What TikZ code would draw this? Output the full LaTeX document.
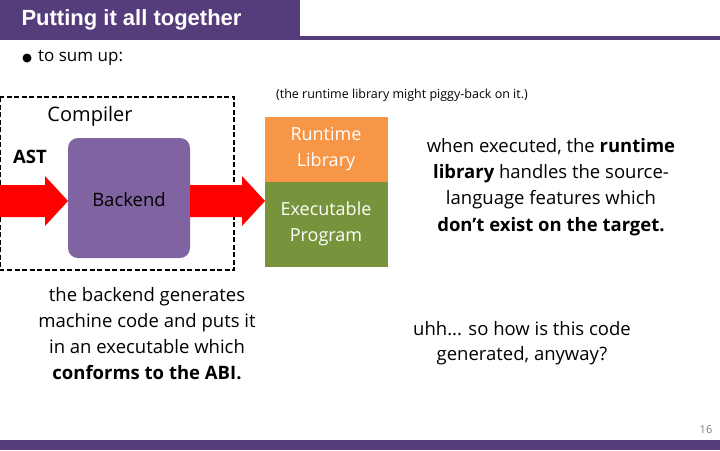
\documentclass[tikz,border=0pt]{standalone}
\usepackage{fontspec}
\setmainfont{Open Sans}
\newfontfamily\titlefont{Liberation Sans}
\definecolor{tpurple}{HTML}{553C7B}
\definecolor{bpurple}{HTML}{8064A2}
\definecolor{torange}{HTML}{F79646}
\definecolor{tgreen}{HTML}{77933C}
\definecolor{tred}{HTML}{FF0000}
\tikzset{
  txt/.style={font=\fontsize{18.5}{25}\selectfont,align=center,inner sep=0},
  boxtxt/.style={font=\fontsize{18}{26}\selectfont,align=center,text=white,inner sep=0},
  bigarrow/.style={fill=tred,draw=none}
}
\begin{document}
\begin{tikzpicture}[x=1pt,y=-1pt]
\useasboundingbox (0,0) rectangle (720,450);
\fill[white] (0,0) rectangle (720,450);
\fill[tpurple] (0,0) rectangle (300,38);
\fill[tpurple] (0,36) rectangle (720,40);
\node[anchor=west,text=white,font=\titlefont\bfseries\fontsize{22}{26}\selectfont] (title) at (18,20) {Putting it all together};
\fill[tpurple] (720,440) rectangle (0,450);
\fill (27,58) circle (4.5);
\node[txt,anchor=west,font=\fontsize{17}{22}\selectfont] (sum) at (38,58) {to sum up:};
\draw[dash pattern=on 5pt off 2.5pt,line width=1.8pt] (0,97) rectangle (234,270);
\node[txt,font=\fontsize{20}{24}\selectfont] (comp) at (90,116) {Compiler};
\node[txt,font=\bfseries\fontsize{18.5}{22}\selectfont] (ast) at (30,157) {AST};
\fill[bigarrow] (0,185) -- (45,185) -- (45,176) -- (68,201) -- (45,226) -- (45,217) -- (0,217) -- cycle;
\fill[bpurple,rounded corners=10pt] (68,138) rectangle (190,258);
\node[txt] (be) at (129,200) {Backend};
\fill[bigarrow] (190,185) -- (242,185) -- (242,176) -- (265,201) -- (242,226) -- (242,217) -- (190,217) -- cycle;
\fill[torange] (265,117) rectangle (388,182);
\fill[tgreen] (265,182) rectangle (388,267);
\node[boxtxt] (rt) at (326,149) {Runtime\\Library};
\node[boxtxt] (ex) at (326,224) {Executable\\Program};
\node[txt,font=\fontsize{12.5}{14}\selectfont] (pig) at (402,95) {(the runtime library might piggy-back on it.)};
\node[txt,font=\fontsize{18.5}{26.3}\selectfont] (rtxt) at (551,187) {when executed, the \textbf{runtime}\\\textbf{library} handles the source-\\language features which\\\textbf{don't exist on the target.}};
\node[txt,font=\fontsize{18.5}{26}\selectfont] (btxt) at (147,334) {the backend generates\\machine code and puts it\\in an executable which\\\textbf{conforms to the ABI.}};
\node[txt] (uhh) at (522,343) {uhh... so how is this code\\generated, anyway?};
\node[txt,font=\fontsize{11}{12}\selectfont,text=gray] (pg) at (706,430) {16};
\end{tikzpicture}
\end{document}
